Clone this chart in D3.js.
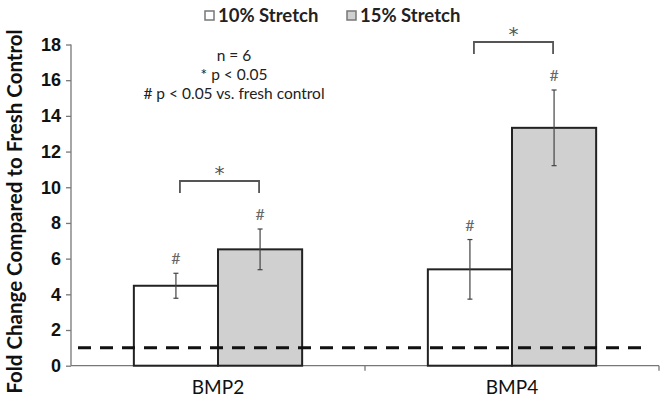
<!DOCTYPE html>
<html>
<head>
<meta charset="utf-8">
<script src="https://cdn.jsdelivr.net/npm/d3@7"></script>
<style>
  body { margin: 0; background: #fff; }
  svg { display: block; font-family: Lato, "Open Sans", sans-serif; }
</style>
</head>
<body>
<svg id="chart" width="666" height="405"></svg>
<script>
const categories = ["BMP2", "BMP4"];
const seriesNames = ["10% Stretch", "15% Stretch"];
const means = [[4.48, 6.52], [5.40, 13.33]];
const errors = [[0.70, 1.14], [1.67, 2.12]];
const yTicks = [0, 2, 4, 6, 8, 10, 12, 14, 16, 18];
const baseline = 1;
const annotations = ["n = 6", "* p < 0.05", "# p < 0.05 vs. fresh control"];

const svg = d3.select("#chart");
const mLeft = 71, mRight = 659, mTop = 44.5, mBottom = 365.7;
const fills = ["#ffffff", "#d0d0d0"];

const y = d3.scaleLinear().domain([0, 18]).range([mBottom, mTop]);
const x0 = d3.scaleBand().domain(categories).range([mLeft, mRight]).paddingInner(0).paddingOuter(0);
const x1 = d3.scaleBand().domain(seriesNames).range([0, x0.bandwidth()]).paddingInner(0).paddingOuter(0.747);

// y axis
const yAxis = svg.append("g").attr("transform", `translate(${mLeft},0)`)
  .call(d3.axisLeft(y).tickValues(yTicks).tickSize(5).tickPadding(5));
yAxis.select(".domain").attr("stroke", "#777").attr("stroke-width", 1.3).attr("d", `M0,${mTop}V${mBottom}`);
yAxis.selectAll(".tick line").attr("stroke", "#777").attr("stroke-width", 1.3);
yAxis.selectAll(".tick text").attr("font-size", 18).attr("font-weight", "bold").attr("fill", "#111");

// x axis
const xg = svg.append("g");
xg.append("line").attr("x1", mLeft).attr("x2", mRight).attr("y1", mBottom).attr("y2", mBottom)
  .attr("stroke", "#777").attr("stroke-width", 1.3);
const bounds = categories.map(c => x0(c) + x0.bandwidth());
xg.selectAll("line.tk").data(bounds).join("line").attr("class", "tk")
  .attr("x1", d => d).attr("x2", d => d).attr("y1", mBottom).attr("y2", mBottom + 5)
  .attr("stroke", "#777").attr("stroke-width", 1.3);
xg.selectAll("text").data(categories).join("text")
  .attr("x", d => x0(d) + x0.bandwidth() / 2).attr("y", mBottom + 28)
  .attr("text-anchor", "middle").attr("font-size", 19).attr("fill", "#111").text(d => d);

// bars
const groups = svg.append("g").selectAll("g").data(categories).join("g")
  .attr("transform", d => `translate(${x0(d)},0)`);
groups.each(function(c, ci) {
  const g = d3.select(this);
  seriesNames.forEach((s, si) => {
    const v = means[ci][si], e = errors[ci][si];
    const bx = x1(s), bw = x1.bandwidth(), cx = bx + bw / 2;
    g.append("rect").attr("x", bx).attr("y", y(v)).attr("width", bw).attr("height", y(0) - y(v))
      .attr("fill", fills[si]).attr("stroke", "#222").attr("stroke-width", 2);
    g.append("line").attr("x1", cx).attr("x2", cx).attr("y1", y(v + e)).attr("y2", y(v - e))
      .attr("stroke", "#444").attr("stroke-width", 1.2);
    [v + e, v - e].forEach(t => g.append("line").attr("x1", cx - 2.5).attr("x2", cx + 2.5)
      .attr("y1", y(t)).attr("y2", y(t)).attr("stroke", "#444").attr("stroke-width", 1.2));
    g.append("text").attr("x", cx).attr("y", y(v + e) - 9).attr("text-anchor", "middle")
      .attr("font-size", 16).attr("fill", "#666").text("#");
  });
  // significance bracket
  const xa = x1(seriesNames[0]) + x1.bandwidth() / 2 + 4;
  const xb = x1(seriesNames[1]) + x1.bandwidth() / 2 - 1;
  const topVal = Math.max(means[ci][0] + errors[ci][0], means[ci][1] + errors[ci][1]);
  const by = y(topVal) - 48;
  g.append("path").attr("d", `M${xa},${by + 12}V${by}H${xb}V${by + 12}`)
    .attr("fill", "none").attr("stroke", "#555").attr("stroke-width", 1.8);
  g.append("text").attr("x", (xa + xb) / 2).attr("y", by - 1).attr("text-anchor", "middle")
    .attr("font-family", "DejaVu Sans").attr("font-size", 20).attr("fill", "#555").text("*");
});

// baseline dashed line
svg.append("line").attr("x1", 78).attr("x2", 650).attr("y1", y(baseline)).attr("y2", y(baseline))
  .attr("stroke", "#111").attr("stroke-width", 3).attr("stroke-dasharray", "13,9");

// annotations
svg.append("g").selectAll("text").data(annotations).join("text")
  .attr("x", 234).attr("y", (d, i) => 61 + i * 19).attr("text-anchor", "middle")
  .attr("font-size", 15.5).attr("fill", "#222").text(d => d);

// legend
const legendX = [205, 347];
const lg = svg.append("g").selectAll("g").data(seriesNames).join("g")
  .attr("transform", (d, i) => `translate(${legendX[i]},10)`);
lg.append("rect").attr("width", 9).attr("height", 9).attr("y", 1)
  .attr("fill", (d, i) => fills[i]).attr("stroke", "#777").attr("stroke-width", 1.5);
lg.append("text").attr("x", 13).attr("y", 11.5).attr("font-size", 18.5).attr("font-weight", "bold")
  .attr("fill", "#222").text(d => d);

// y title
svg.append("text").attr("transform", `translate(22,211.5) rotate(-90)`)
  .attr("text-anchor", "middle").attr("font-size", 20.5).attr("font-weight", "bold")
  .attr("fill", "#111").text("Fold Change Compared to Fresh Control");
</script>
</body>
</html>
